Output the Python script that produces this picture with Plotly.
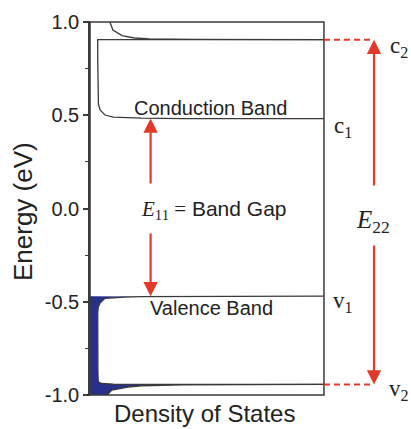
import plotly.graph_objects as go

# ---- data (energy in eV, density of states in box-width units) ----
ytick_vals = [-1.0, -0.5, 0.0, 0.5, 1.0]
ytick_text = ["-1.0", "-0.5", "0.0", "0.5", "1.0"]
yminor_vals = [-0.75, -0.25, 0.25, 0.75]

# band edges (van Hove singularities)
E_c1, E_c2 = 0.482, 0.905
E_v1, E_v2 = -0.47, -0.943

# conduction band DOS, above c2 (second singularity branch)
cb2_E = [1.0, 0.957, 0.927, 0.914, 0.909, 0.906, 0.905]
cb2_D = [0.085, 0.098, 0.137, 0.19, 0.256, 0.45, 1.0]
# conduction band DOS between c1 and c2 (includes c2 line and c1 line)
cb1_E = [0.905, 0.905, 0.80, 0.65, 0.56, 0.528, 0.51, 0.501, 0.49, 0.486, 0.484, 0.482, 0.482]
cb1_D = [1.0, 0.033, 0.033, 0.034, 0.036, 0.043, 0.055, 0.064, 0.10, 0.15, 0.22, 0.40, 1.0]

# valence band DOS between v1 and v2
vb1_E = [-0.47, -0.47, -0.472, -0.475, -0.4815, -0.507, -0.53, -0.56, -0.85, -0.92, -0.93, -0.938, -0.942, -0.943, -0.943]
vb1_D = [1.0, 0.40, 0.22, 0.15, 0.064, 0.043, 0.035, 0.033, 0.033, 0.034, 0.037, 0.05, 0.10, 0.25, 1.0]
# valence band DOS below v2
vb2_E = [-0.943, -0.945, -0.95, -0.957, -0.973, -0.99, -1.0]
vb2_D = [1.0, 0.40, 0.22, 0.162, 0.094, 0.08, 0.077]

# arrow geometry (energies of arrow tails)
x_e11 = 0.259
x_e22 = 1.214
e11_tail_up, e11_tail_down = 0.126, -0.126
e22_tail_up, e22_tail_down = 0.115, -0.19

RED = "#e3392b"
NAVY = "#27318c"
LINE = "#3a3a3a"
SANS = "Liberation Sans, Arial, sans-serif"
SERIF = "Liberation Serif, Times New Roman, serif"

fig = go.Figure()

# valence band filled area (left of DOS curve)
fill_E = [E_v1] + [e for e, d in zip(vb1_E, vb1_D) if d < 0.3] + \
         [e for e, d in zip(vb2_E, vb2_D) if d < 0.3] + [-1.0, -1.0]
fill_D = [0.0] + [d for d in vb1_D if d < 0.3] + [d for d in vb2_D if d < 0.3] + [0.0, 0.0]
fig.add_trace(go.Scatter(x=fill_D, y=fill_E, mode="lines", fill="toself",
                         fillcolor=NAVY, line=dict(width=0), hoverinfo="skip"))

for xs, ys, col in [(cb2_D, cb2_E, LINE), (cb1_D, cb1_E, LINE),
                    (vb1_D, vb1_E, LINE), (vb2_D, vb2_E, LINE)]:
    fig.add_trace(go.Scatter(x=xs, y=ys, mode="lines",
                             line=dict(color=col, width=1.3), hoverinfo="skip"))

# plot box (top, right, bottom)
fig.add_shape(type="rect", xref="x", yref="y", x0=0, x1=1, y0=-1, y1=1,
              line=dict(color=LINE, width=1.5))

# red dashed lines from the box to the E22 arrow
for e in (E_c2, E_v2):
    fig.add_shape(type="line", xref="x", yref="y", x0=1, x1=x_e22, y0=e, y1=e,
                  line=dict(color=RED, width=2, dash="6px,4px"))

arrow_kw = dict(xref="x", yref="y", axref="x", ayref="y", text="", showarrow=True,
                arrowhead=2, arrowsize=1.3, arrowwidth=2.2, arrowcolor=RED, standoff=0)
fig.add_annotation(x=x_e11, y=E_c1, ax=x_e11, ay=e11_tail_up, **arrow_kw)
fig.add_annotation(x=x_e11, y=E_v1, ax=x_e11, ay=e11_tail_down, **arrow_kw)
fig.add_annotation(x=x_e22, y=E_c2, ax=x_e22, ay=e22_tail_up, **arrow_kw)
fig.add_annotation(x=x_e22, y=E_v2, ax=x_e22, ay=e22_tail_down, **arrow_kw)

txt_kw = dict(xref="x", yref="y", showarrow=False, xanchor="center", yanchor="middle")
fig.add_annotation(x=0.513, y=0.539, text="Conduction Band",
                   font=dict(family=SANS, size=20, color="#222"), **txt_kw)
fig.add_annotation(x=0.519, y=-0.531, text="Valence Band",
                   font=dict(family=SANS, size=20, color="#222"), **txt_kw)
fig.add_annotation(x=0.528, y=-0.008,
                   text=f"<span style='font-family:{SERIF}'><i>E</i><sub>11</sub> =</span> Band Gap",
                   font=dict(family=SANS, size=21, color="#222"), **txt_kw)
fig.add_annotation(x=1.21, y=-0.07, text="<i>E</i><sub>22</sub>",
                   font=dict(family=SERIF, size=25, color="#222"), **txt_kw)
for lbl, xx, yy in [("c<sub>2</sub>", 1.32, 0.866), ("c<sub>1</sub>", 1.08, 0.437),
                    ("v<sub>1</sub>", 1.08, -0.50), ("v<sub>2</sub>", 1.32, -0.973)]:
    fig.add_annotation(x=xx, y=yy, text=lbl, font=dict(family=SERIF, size=23, color="#222"), **txt_kw)

# axis titles
fig.add_annotation(xref="paper", yref="paper", x=-0.209, y=0.493, text="Energy (eV)",
                   textangle=-90, showarrow=False, xanchor="center", yanchor="middle",
                   font=dict(family=SANS, size=26, color="#222"))
fig.add_annotation(xref="paper", yref="paper", x=0.358, y=-0.047, text="Density of States",
                   showarrow=False, xanchor="center", yanchor="middle",
                   font=dict(family=SANS, size=24, color="#222"))

fig.update_layout(
    width=411, height=429, margin=dict(l=90, r=0, t=21, b=33),
    paper_bgcolor="white", plot_bgcolor="white", showlegend=False,
    xaxis=dict(range=[0, 1.372], visible=False, fixedrange=True),
    yaxis=dict(range=[-1.005, 1.005], tickmode="array", tickvals=ytick_vals, ticktext=ytick_text,
               showline=True, linecolor=LINE, linewidth=1.5, ticks="outside", ticklen=5,
               tickwidth=1.5, tickcolor=LINE, showgrid=False, zeroline=False,
               tickfont=dict(family=SANS, size=20, color="#222"),
               minor=dict(tickmode="array", tickvals=yminor_vals, ticks="outside",
                          ticklen=3, tickwidth=1.2, tickcolor=LINE, showgrid=False)),
)

fig.write_html("out.html")
